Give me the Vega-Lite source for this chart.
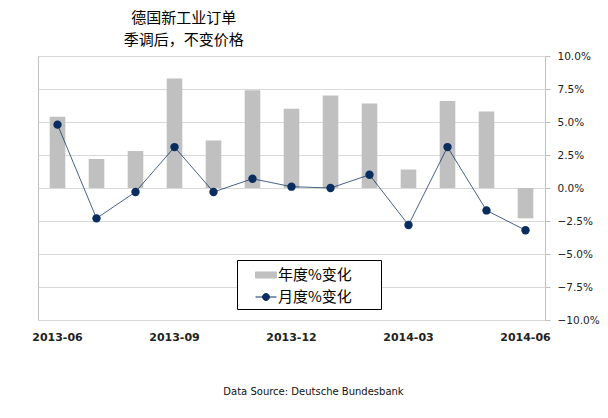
{
  "$schema": "https://vega.github.io/schema/vega-lite/v6.json",
  "width": 507,
  "height": 264,
  "autosize": {"type": "none"},
  "padding": {"left": 38, "top": 56, "right": 62, "bottom": 98},
  "background": "white",
  "title": {
    "text": ["德国新工业订单", "季调后，不变价格"],
    "font": "Noto Sans CJK SC",
    "fontSize": 15,
    "fontWeight": "normal",
    "color": "#000",
    "anchor": "start",
    "align": "center",
    "dx": 152,
    "lineHeight": 22,
    "offset": 3
  },
  "data": {
    "values": [
      {"month": "2013-06", "yoy": 5.4, "mom": 4.8},
      {"month": "2013-07", "yoy": 2.2, "mom": -2.3},
      {"month": "2013-08", "yoy": 2.8, "mom": -0.3},
      {"month": "2013-09", "yoy": 8.3, "mom": 3.1},
      {"month": "2013-10", "yoy": 3.6, "mom": -0.3},
      {"month": "2013-11", "yoy": 7.4, "mom": 0.7},
      {"month": "2013-12", "yoy": 6.0, "mom": 0.1},
      {"month": "2014-01", "yoy": 7.0, "mom": 0.0},
      {"month": "2014-02", "yoy": 6.4, "mom": 1.0},
      {"month": "2014-03", "yoy": 1.4, "mom": -2.8},
      {"month": "2014-04", "yoy": 6.6, "mom": 3.1},
      {"month": "2014-05", "yoy": 5.8, "mom": -1.7},
      {"month": "2014-06", "yoy": -2.3, "mom": -3.2}
    ]
  },
  "encoding": {
    "x": {
      "field": "month",
      "type": "ordinal",
      "scale": {"paddingInner": 0, "paddingOuter": 0},
      "axis": {
        "values": ["2013-06", "2013-09", "2013-12", "2014-03", "2014-06"],
        "labelAngle": 0,
        "domain": false,
        "ticks": false,
        "grid": false,
        "labelPadding": 11,
        "labelFont": "DejaVu Sans",
        "labelFontSize": 11,
        "labelFontWeight": 600,
        "labelColor": "#222",
        "title": "Data Source: Deutsche Bundesbank",
        "titleFont": "DejaVu Sans",
        "titleFontSize": 10,
        "titleFontWeight": "normal",
        "titleColor": "#111",
        "titleX": 275,
        "titleY": 66,
        "titleAlign": "center",
        "titleBaseline": "top"
      }
    },
    "y": {
      "type": "quantitative",
      "scale": {"domain": [-10, 10], "nice": false},
      "axis": {
        "orient": "right",
        "values": [-10, -7.5, -5, -2.5, 0, 2.5, 5, 7.5, 10],
        "labelExpr": "format(datum.value, '.1f') + '%'",
        "labelOverlap": false,
        "grid": true,
        "gridColor": "#d9d9d9",
        "domain": false,
        "tickColor": "#bfbfbf",
        "tickSize": 5,
        "labelPadding": 7,
        "labelFont": "DejaVu Sans",
        "labelFontSize": 10.5,
        "labelColor": "#222",
        "title": null
      }
    }
  },
  "layer": [
    {
      "mark": {"type": "bar", "width": {"band": 0.4}},
      "encoding": {
        "y": {"field": "yoy"},
        "color": {
          "datum": "年度%变化",
          "scale": {"domain": ["年度%变化", "月度%变化"], "range": ["#c0c0c0", "#0a2d5f"]},
          "legend": {
            "orient": "none",
            "legendX": 199,
            "legendY": 204,
            "title": null,
            "strokeColor": "#000",
            "fillColor": "#fff",
            "padding": 4,
            "symbolOffset": 14,
            "symbolSize": 441,
            "rowPadding": 3,
            "labelOffset": 1,
            "labelFont": "Noto Sans CJK SC",
            "labelFontSize": 15,
            "labelColor": "#000",
            "labelExpr": "datum.label + '\u00a0\u00a0\u00a0\u00a0\u2800'",
            "encode": {
              "symbols": {
                "update": {
                  "shape": {"signal": "datum.value === '年度%变化' ? 'M-1,-0.29H1V0.29H-1Z' : 'M-1,0H1M-0.33,0A0.33,0.33,0,1,0,0.33,0A0.33,0.33,0,1,0,-0.33,0Z'"},
                  "fill": {"signal": "datum.value === '年度%变化' ? '#c0c0c0' : '#0a2d5f'"},
                  "stroke": {"signal": "datum.value === '年度%变化' ? '#c0c0c0' : '#0a2d5f'"},
                  "strokeWidth": {"value": 1},
                  "opacity": {"value": 1}
                }
              }
            }
          }
        }
      }
    },
    {
      "mark": {"type": "line", "strokeWidth": 1, "opacity": 0.75},
      "encoding": {
        "y": {"field": "mom"},
        "color": {"datum": "月度%变化"}
      }
    },
    {
      "mark": {"type": "point", "filled": true, "size": 70, "opacity": 1, "color": "#0a2d5f"},
      "encoding": {
        "y": {"field": "mom"}
      }
    }
  ],
  "config": {
    "view": {"stroke": "#bfbfbf", "strokeWidth": 1}
  }
}
